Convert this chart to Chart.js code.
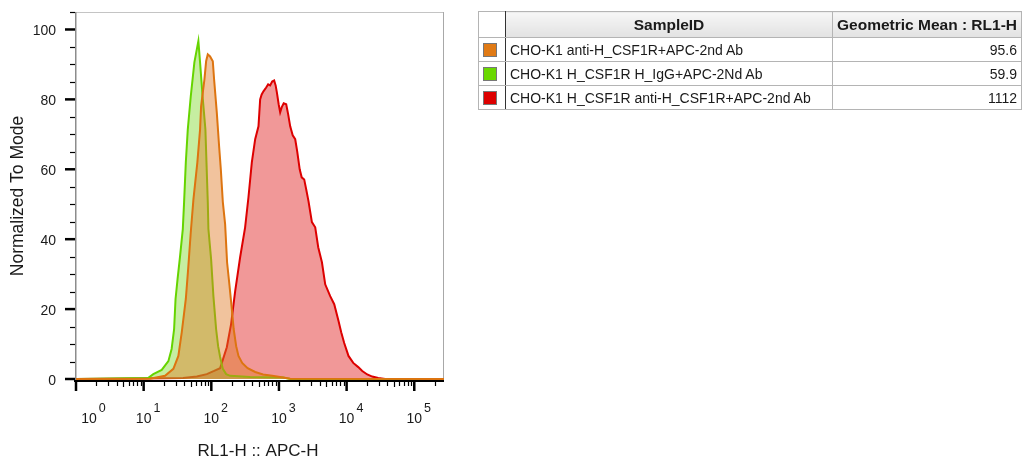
<!DOCTYPE html>
<html>
<head>
<meta charset="utf-8">
<script src="https://cdn.jsdelivr.net/npm/chart.js@4.4.1/dist/chart.umd.min.js"></script>
<style>
  html, body { margin: 0; padding: 0; background: #fff; }
  #wrap { position: relative; width: 1024px; height: 460px; overflow: hidden; }
  #c { position: absolute; left: 0; top: 0; }
  #legend { position: absolute; left: 478px; top: 11px; }
  #legend table { border-collapse: collapse; table-layout: fixed; width: 544px; font-family: 'Liberation Sans', Arial, sans-serif; font-size: 14px; color: #1a1a1a; border: 1px solid #555; }
  #legend td, #legend th { border: 1px solid #b4b4b4; padding: 0 4px; white-space: nowrap; overflow: hidden; }
  #legend th { font-weight: bold; font-size: 15.5px; height: 25px; background: linear-gradient(#f6f6f6, #e2e2e2); text-align: center; }
  #legend th.sw { background: #fff; }
  #legend td { height: 23px; }
  #legend .sw { width: 18px; border-right: 1px solid #333; padding: 0 4px; }
  #legend .name { width: 318px; text-align: left; padding-left: 4px; }
  #legend .val { text-align: right; padding-right: 4px; }
  #legend .box { display: block; width: 14px; height: 14px; border: 1px solid #777; box-sizing: border-box; }
</style>
</head>
<body>
<div id="wrap">
  <canvas id="c" width="1024" height="460"></canvas>
  <div id="legend"></div>
</div>
<script>
// ---------- data ----------
const sampleIds = [
  'CHO-K1 anti-H_CSF1R+APC-2nd Ab',
  'CHO-K1 H_CSF1R H_IgG+APC-2Nd Ab',
  'CHO-K1 H_CSF1R anti-H_CSF1R+APC-2nd Ab'
];
const geoMeans = ['95.6', '59.9', '1112'];
const tableHeaders = ['SampleID', 'Geometric Mean : RL1-H'];

const xTickExponents = [0, 1, 2, 3, 4, 5];
const yTickValues = [0, 20, 40, 60, 80, 100];
const yMinorValues = [5, 10, 15, 25, 30, 35, 45, 50, 55, 65, 70, 75, 85, 90, 95, 105];

const xTitle = 'RL1-H :: APC-H';
const yTitle = 'Normalized To Mode';

// orange: CHO-K1 anti-H_CSF1R+APC-2nd Ab
const orangeX = [1, 12.4, 20.7, 27.5, 32.6, 36.6, 42.0, 45.8, 49.7, 54.4, 62.2, 68.2, 70.6, 79.1, 83.8, 88.7, 95.9, 105.2, 110, 120.5, 130.4, 138.2, 148, 160, 171, 185, 201, 214, 233, 252, 286, 344, 445, 583, 793, 1154, 1465, 275000];
const orangeY = [0, 0.1, 0.9, 2.9, 6.6, 13.4, 22.9, 32.3, 42.0, 51.4, 62.0, 71.4, 78.0, 85.7, 90.9, 92.9, 92.3, 90.9, 85.7, 76.3, 66.6, 60.0, 50.6, 44.3, 33.4, 27.1, 20.0, 14.3, 9.4, 6.6, 4.6, 3.1, 2.0, 1.3, 0.9, 0.4, 0.1, 0];

// green: CHO-K1 H_CSF1R H_IgG+APC-2Nd Ab
const greenX = [1, 11.6, 13.9, 18.5, 23.2, 25.9, 28.2, 29.6, 31.7, 34.5, 37.9, 39.6, 42.0, 44.9, 49.7, 56.2, 64.4, 68.2, 74.3, 81.8, 88.7, 90.6, 99.3, 107.4, 117.7, 126.1, 135, 148, 165.6, 189.7, 375, 1154, 1465, 275000];
const greenY = [0, 0.3, 1.4, 2.6, 5.1, 8.6, 14.3, 22.9, 28.6, 35.1, 42.9, 50.6, 62.0, 71.4, 80.9, 90.6, 96.7, 90.6, 80.9, 71.4, 50.6, 42.9, 34.3, 23.7, 14.3, 9.4, 6.3, 2.9, 1.4, 0.9, 0.6, 0.4, 0, 0];

// red: CHO-K1 H_CSF1R anti-H_CSF1R+APC-2nd Ab
const redX = [1, 17.5, 38.3, 61.1, 85.8, 110, 135, 169.5, 196, 225, 267, 316, 354, 397, 445, 498, 527, 555, 590, 647, 692, 741, 793, 849, 893, 931, 990, 1042, 1097, 1175, 1279, 1368, 1466, 1596, 1738, 1860, 2025, 2167, 2361, 2525, 2731, 3067, 3434, 3804, 4315, 4826, 5718, 6558, 7592, 8318, 9211, 10658, 12522, 14861, 17030, 20180, 23930, 29330, 37240, 275000];
const redY = [0, 0.2, 0.3, 0.7, 1.4, 2.3, 3.1, 9.1, 15.7, 25.1, 34.9, 43.4, 52.0, 62.0, 68.6, 72.3, 80.0, 81.4, 82.3, 83.4, 84.3, 84.0, 85.1, 85.4, 84.0, 82.0, 78.6, 76.3, 77.7, 78.9, 78.6, 75.7, 72.3, 69.7, 68.6, 65.1, 60.0, 57.7, 57.1, 54.3, 50.9, 44.9, 43.4, 37.7, 33.4, 27.1, 23.7, 21.4, 16.6, 13.4, 10.3, 6.6, 4.6, 3.4, 2.3, 1.3, 0.7, 0.3, 0, 0];

const lineColors = ['#dd7410', '#66d400', '#dd0000'];
const fillColors = ['rgba(224,122,37,0.45)', 'rgba(120,214,30,0.42)', 'rgba(226,40,40,0.48)'];
const legendColors = ['#e07a14', '#6ad800', '#dd0000'];

// ---------- legend table ----------
(function buildTable() {
  let h = '<table><colgroup><col style="width:27px"><col style="width:327px"><col></colgroup>' +
          '<tr><th class="sw"></th><th class="name" style="text-align:center">' + tableHeaders[0] +
          '</th><th class="val" style="text-align:center">' + tableHeaders[1] + '</th></tr>';
  sampleIds.forEach((s, i) => {
    h += '<tr><td class="sw"><span class="box" style="background:' + legendColors[i] + '"></span></td>' +
         '<td class="name">' + s + '</td><td class="val">' + geoMeans[i] + '</td></tr>';
  });
  h += '</table>';
  document.getElementById('legend').innerHTML = h;
})();

// ---------- chart ----------
const zip = (xs, ys) => xs.map((x, i) => ({ x: x, y: ys[i] }));
const series = [zip(orangeX, orangeY), zip(greenX, greenY), zip(redX, redY)];

const FONT = "'Liberation Sans', Arial, sans-serif";

const axesPlugin = {
  id: 'flowAxes',
  beforeDatasetsDraw(chart) {
    const { ctx, chartArea: a } = chart;
    ctx.save();
    ctx.strokeStyle = '#c4c4c4';
    ctx.lineWidth = 1;
    ctx.beginPath();
    ctx.moveTo(a.left, a.top + 0.5);
    ctx.lineTo(a.right - 0.5, a.top + 0.5);
    ctx.stroke();
    ctx.strokeStyle = '#a8a8a8';
    ctx.beginPath();
    ctx.moveTo(a.right - 0.5, a.top);
    ctx.lineTo(a.right - 0.5, a.bottom + 2);
    ctx.stroke();
    ctx.strokeStyle = '#8c8c8c';
    ctx.lineWidth = 1.5;
    ctx.beginPath();
    ctx.moveTo(a.left - 0.25, a.top);
    ctx.lineTo(a.left - 0.25, a.bottom + 2);
    ctx.stroke();
    ctx.strokeStyle = '#000';
    ctx.lineWidth = 2;
    ctx.beginPath();
    ctx.moveTo(a.left - 2, a.bottom + 2);
    ctx.lineTo(a.right, a.bottom + 2);
    ctx.stroke();
    ctx.restore();
  },
  afterDraw(chart) {
    const { ctx, chartArea: a, scales } = chart;
    const xs = scales.x, ys = scales.y;
    ctx.save();
    ctx.fillStyle = '#1a1a1a';
    ctx.strokeStyle = '#000';
    yMinorValues.forEach(v => {
      const p = Math.round(ys.getPixelForValue(v)) + 0.5;
      ctx.lineWidth = 1.2;
      ctx.beginPath(); ctx.moveTo(a.left - 6, p); ctx.lineTo(a.left - 1, p); ctx.stroke();
    });
    ctx.font = '14px ' + FONT;
    ctx.textAlign = 'right';
    ctx.textBaseline = 'middle';
    yTickValues.forEach(v => {
      const p = ys.getPixelForValue(v);
      ctx.lineWidth = 2.5;
      ctx.beginPath(); ctx.moveTo(a.left - 11, p); ctx.lineTo(a.left - 1, p); ctx.stroke();
      ctx.fillText(String(v), a.left - 20, p + 2);
    });
    const yb = a.bottom + 2;
    xTickExponents.forEach((e) => {
      const p = xs.getPixelForValue(Math.pow(10, e));
      ctx.lineWidth = 2.5;
      ctx.beginPath(); ctx.moveTo(p, yb); ctx.lineTo(p, yb + 10); ctx.stroke();
      for (let m = 2; m <= 9; m++) {
        const v = m * Math.pow(10, e);
        if (v > xs.max) break;
        const q = Math.round(xs.getPixelForValue(v)) + 0.5;
        ctx.lineWidth = 1.2;
        ctx.beginPath(); ctx.moveTo(q, yb); ctx.lineTo(q, yb + (m === 5 ? 6 : 5)); ctx.stroke();
      }
      const cx = p + (e === 0 ? 13 : 0);
      ctx.font = '14px ' + FONT;
      ctx.textAlign = 'center';
      ctx.textBaseline = 'alphabetic';
      ctx.fillText('10', cx, 423);
      const w = ctx.measureText('10').width;
      ctx.font = '12.5px ' + FONT;
      ctx.textAlign = 'left';
      ctx.fillText(String(e), cx + w / 2 + 2, 412);
    });
    ctx.font = '17px ' + FONT;
    ctx.textAlign = 'center';
    ctx.textBaseline = 'alphabetic';
    ctx.fillText(xTitle, 258, 456);
    ctx.save();
    ctx.translate(23, 196);
    ctx.rotate(-Math.PI / 2);
    ctx.font = '17.5px ' + FONT;
    ctx.fillText(yTitle, 0, 0);
    ctx.restore();
    ctx.restore();
  }
};

new Chart(document.getElementById('c'), {
  type: 'line',
  data: {
    datasets: series.map((d, i) => ({
      label: sampleIds[i],
      data: d,
      borderColor: lineColors[i],
      backgroundColor: fillColors[i],
      borderWidth: 2,
      pointRadius: 0,
      tension: 0,
      fill: 'origin',
      clip: false
    }))
  },
  options: {
    responsive: false,
    animation: false,
    events: [],
    layout: { padding: { left: 76, top: 12, right: 580, bottom: 81 } },
    plugins: { legend: { display: false }, tooltip: { enabled: false } },
    scales: {
      x: { type: 'logarithmic', min: 1, max: 275000, display: false },
      y: { type: 'linear', min: 0, max: 105, display: false }
    }
  },
  plugins: [axesPlugin]
});
</script>
</body>
</html>
